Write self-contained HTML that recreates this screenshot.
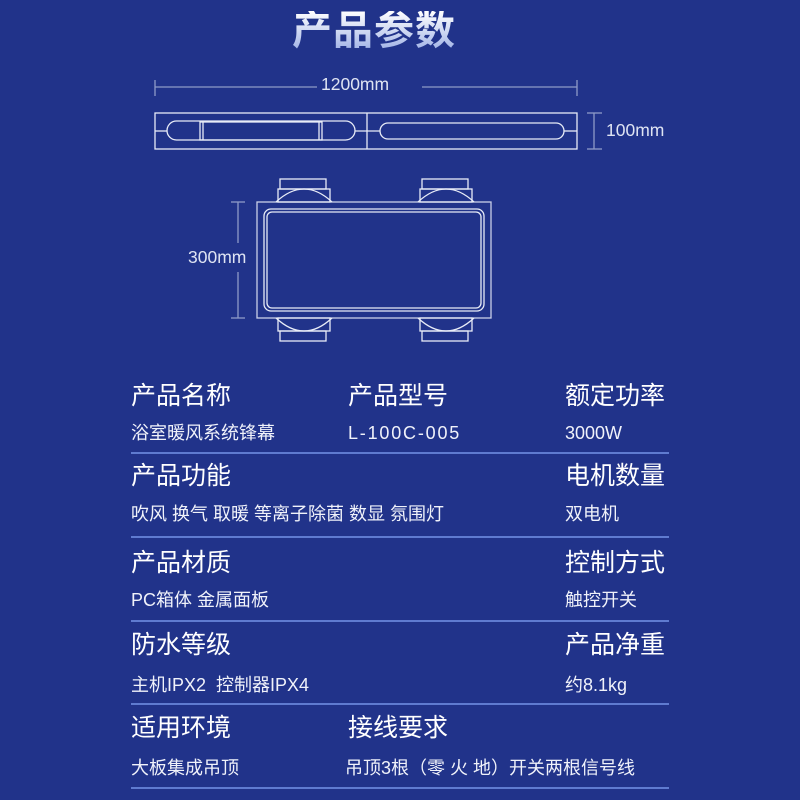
<!DOCTYPE html>
<html><head><meta charset="utf-8"><style>
body{margin:0;width:800px;height:800px;background:#21338a;position:relative;overflow:hidden;font-family:"Liberation Sans","Noto Sans CJK SC",sans-serif;color:#fff}
.t{position:absolute;white-space:nowrap;line-height:1}
.h{font-size:25px}
.v{font-size:18px;color:#f0f2fa}
.ln{position:absolute;left:131px;width:538px;height:2px;background:#5f7bd0}
</style></head><body>
<div class="t" style="left:292px;top:11px;font-size:40px;font-weight:bold;letter-spacing:1px;background:linear-gradient(#ffffff,#9fb2e6);-webkit-background-clip:text;color:transparent">产品参数</div>
<svg width="800" height="360" style="position:absolute;left:0;top:0" fill="none" stroke="#e8ecf7" stroke-width="1.3">
<g stroke="#8e9bc8"><line x1="155" y1="87" x2="317" y2="87"/><line x1="422" y1="87" x2="577" y2="87"/><line x1="155" y1="80" x2="155" y2="96"/><line x1="577" y1="80" x2="577" y2="96"/>
<line x1="594" y1="113" x2="594" y2="149"/><line x1="587" y1="113" x2="602" y2="113"/><line x1="587" y1="149" x2="602" y2="149"/>
<line x1="238" y1="202" x2="238" y2="243"/><line x1="238" y1="272" x2="238" y2="318"/><line x1="231" y1="202" x2="245" y2="202"/><line x1="231" y1="318" x2="245" y2="318"/></g>
<rect x="155" y="113" width="422" height="36"/><line x1="367" y1="113" x2="367" y2="149"/>
<line x1="155" y1="131" x2="167" y2="131"/><line x1="355" y1="131" x2="380" y2="131"/><line x1="564" y1="131" x2="577" y2="131"/>
<rect x="167" y="121" width="188" height="19" rx="9.5"/><rect x="200" y="122" width="122" height="18"/><line x1="203" y1="122" x2="203" y2="140"/><line x1="319" y1="122" x2="319" y2="140"/>
<rect x="380" y="123" width="184" height="16" rx="8"/>
<rect x="257" y="202" width="234" height="116" stroke="#c9d0e8"/>
<rect x="264" y="209" width="220" height="102" rx="7"/><rect x="267" y="212" width="214" height="96" rx="5"/>
<g id="m"><rect x="280" y="179" width="46" height="10"/><rect x="278" y="189" width="52" height="13"/><path d="M276 202 Q304 176 332 202"/></g>
<use href="#m" transform="translate(142,0)"/>
<use href="#m" transform="translate(0,520) scale(1,-1)"/>
<use href="#m" transform="translate(142,520) scale(1,-1)"/>
</svg>
<div class="t" style="left:321px;top:76px;font-size:17.5px;color:#dfe4f3">1200mm</div>
<div class="t" style="left:606px;top:122px;font-size:17.5px;color:#dfe4f3">100mm</div>
<div class="t" style="left:188px;top:249px;font-size:17.5px;color:#dfe4f3">300mm</div>

<div class="t h" style="left:131px;top:384px">产品名称</div>
<div class="t h" style="left:348px;top:384px">产品型号</div>
<div class="t h" style="left:565px;top:384px">额定功率</div>
<div class="t v" style="left:131px;top:424px">浴室暖风系统锋幕</div>
<div class="t v" style="left:348px;top:424px;letter-spacing:1.8px">L-100C-005</div>
<div class="t v" style="left:565px;top:424px">3000W</div>
<div class="ln" style="top:452px"></div>

<div class="t h" style="left:131px;top:464px">产品功能</div>
<div class="t h" style="left:565px;top:464px">电机数量</div>
<div class="t v" style="left:131px;top:505px">吹风 换气 取暖 等离子除菌 数显 氛围灯</div>
<div class="t v" style="left:565px;top:505px">双电机</div>
<div class="ln" style="top:536px"></div>

<div class="t h" style="left:131px;top:551px">产品材质</div>
<div class="t h" style="left:565px;top:551px">控制方式</div>
<div class="t v" style="left:131px;top:591px">PC箱体 金属面板</div>
<div class="t v" style="left:565px;top:591px">触控开关</div>
<div class="ln" style="top:620px"></div>

<div class="t h" style="left:131px;top:633px">防水等级</div>
<div class="t h" style="left:565px;top:633px">产品净重</div>
<div class="t v" style="left:131px;top:676px">主机IPX2&nbsp; 控制器IPX4</div>
<div class="t v" style="left:565px;top:676px">约8.1kg</div>
<div class="ln" style="top:703px"></div>

<div class="t h" style="left:131px;top:716px">适用环境</div>
<div class="t h" style="left:348px;top:716px">接线要求</div>
<div class="t v" style="left:131px;top:759px">大板集成吊顶</div>
<div class="t v" style="left:345px;top:759px">吊顶3根（零 火 地）开关两根信号线</div>
<div class="ln" style="top:787px"></div>
</body></html>
